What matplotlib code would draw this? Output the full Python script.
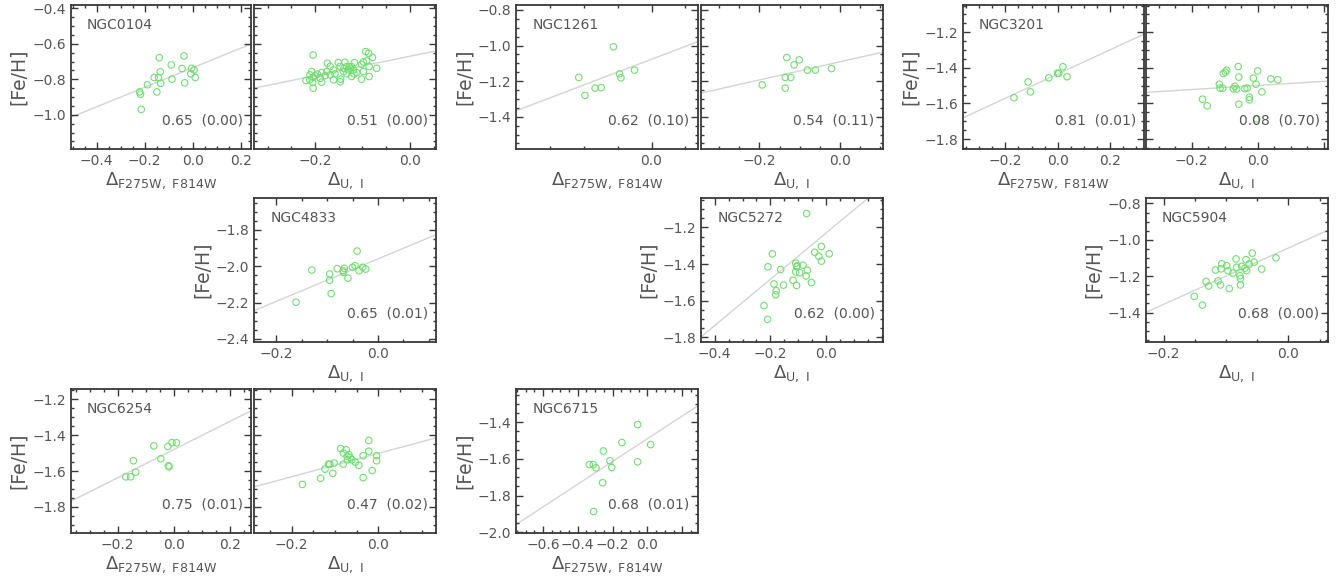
import matplotlib
matplotlib.use("Agg")
import matplotlib.pyplot as plt
from matplotlib.ticker import MultipleLocator, AutoMinorLocator, FuncFormatter

# === Data ===
# NGC0104
ngc0104_f_x = [-0.139, -0.036, -0.089, -0.135, -0.044, -0.004, 0.006, -0.008, 0.011, -0.086,
               -0.160, -0.142, -0.133, -0.033, -0.188, -0.149, -0.221, -0.217, -0.214]
ngc0104_f_y = [-0.678, -0.668, -0.719, -0.758, -0.739, -0.738, -0.747, -0.769, -0.790, -0.799,
               -0.790, -0.790, -0.822, -0.820, -0.831, -0.871, -0.871, -0.884, -0.970]
ngc0104_u_x = [-0.204, -0.093, -0.087, -0.079, -0.091, -0.070, -0.086, -0.174, -0.151, -0.137,
               -0.117, -0.098, -0.102, -0.123, -0.126, -0.130, -0.119, -0.112, -0.098, -0.086,
               -0.102, -0.140, -0.147, -0.161, -0.168, -0.175, -0.186, -0.195, -0.207, -0.211,
               -0.204, -0.219, -0.211, -0.200, -0.189, -0.179, -0.168, -0.158, -0.146, -0.147,
               -0.133, -0.123, -0.118, -0.133, -0.161, -0.139, -0.128, -0.204, -0.205, -0.186]
ngc0104_u_y = [-0.663, -0.644, -0.653, -0.676, -0.696, -0.738, -0.728, -0.709, -0.706, -0.704,
               -0.706, -0.702, -0.715, -0.728, -0.738, -0.747, -0.747, -0.762, -0.756, -0.784,
               -0.799, -0.756, -0.728, -0.747, -0.728, -0.756, -0.762, -0.771, -0.756, -0.775,
               -0.788, -0.807, -0.803, -0.780, -0.794, -0.780, -0.775, -0.769, -0.799, -0.814,
               -0.769, -0.784, -0.769, -0.728, -0.803, -0.738, -0.728, -0.850, -0.818, -0.816]
# NGC1261
ngc1261_f_x = [-0.107, -0.098, -0.083, -0.074, -0.056, -0.047, -0.045, -0.025]
ngc1261_f_y = [-1.179, -1.280, -1.239, -1.236, -1.007, -1.159, -1.181, -1.138]
ngc1261_u_x = [-0.193, -0.132, -0.136, -0.136, -0.122, -0.114, -0.101, -0.081, -0.061, -0.021]
ngc1261_u_y = [-1.221, -1.067, -1.179, -1.239, -1.179, -1.108, -1.080, -1.138, -1.138, -1.129]
# NGC3201
ngc3201_f_x = [-0.167, -0.113, -0.104, -0.034, -0.001, 0.004, 0.020, 0.036]
ngc3201_f_y = [-1.568, -1.479, -1.535, -1.456, -1.430, -1.430, -1.394, -1.450]
ngc3201_u_x = [-0.167, -0.153, -0.116, -0.114, -0.106, -0.104, -0.098, -0.094, -0.074, -0.069,
               -0.064, -0.059, -0.057, -0.057, -0.039, -0.032, -0.025, -0.025, -0.013, -0.005,
               0.000, 0.013, 0.040, 0.061, -0.003]
ngc3201_u_y = [-1.576, -1.613, -1.492, -1.514, -1.514, -1.432, -1.424, -1.414, -1.517, -1.504,
               -1.519, -1.393, -1.452, -1.604, -1.517, -1.514, -1.580, -1.565, -1.458, -1.492,
               -1.417, -1.535, -1.462, -1.467, -1.687]
# NGC4833
ngc4833_u_x = [-0.161, -0.130, -0.095, -0.095, -0.092, -0.080, -0.068, -0.066, -0.068, -0.059,
               -0.050, -0.045, -0.041, -0.037, -0.030, -0.024]
ngc4833_u_y = [-2.198, -2.021, -2.043, -2.077, -2.151, -2.014, -2.025, -2.012, -2.034, -2.066,
               -2.006, -1.997, -1.917, -2.025, -2.006, -2.016]
# NGC5272
ngc5272_u_x = [-0.070, -0.193, -0.209, -0.163, -0.187, -0.179, -0.181, -0.153, -0.223, -0.210,
               -0.119, -0.109, -0.109, -0.106, -0.104, -0.095, -0.083, -0.072, -0.067, -0.053,
               -0.041, -0.026, -0.017, -0.017, 0.011, -0.106]
ngc5272_u_y = [-1.124, -1.344, -1.415, -1.430, -1.509, -1.546, -1.568, -1.515, -1.627, -1.702,
               -1.488, -1.395, -1.443, -1.517, -1.410, -1.447, -1.406, -1.465, -1.434, -1.501,
               -1.336, -1.358, -1.384, -1.304, -1.344, -1.415]
# NGC5904
ngc5904_u_x = [-0.151, -0.138, -0.132, -0.128, -0.117, -0.113, -0.109, -0.107, -0.108, -0.099,
               -0.097, -0.095, -0.089, -0.084, -0.083, -0.078, -0.077, -0.077, -0.075, -0.070,
               -0.068, -0.067, -0.063, -0.058, -0.055, -0.043, -0.020]
ngc5904_u_y = [-1.311, -1.359, -1.229, -1.254, -1.166, -1.226, -1.248, -1.132, -1.160, -1.142,
               -1.170, -1.268, -1.183, -1.105, -1.151, -1.198, -1.213, -1.248, -1.146, -1.157,
               -1.109, -1.170, -1.133, -1.073, -1.123, -1.161, -1.099]
# NGC6254
ngc6254_f_x = [-0.171, -0.154, -0.144, -0.136, -0.071, -0.046, -0.021, -0.019, -0.017, -0.006, 0.010]
ngc6254_f_y = [-1.632, -1.632, -1.542, -1.606, -1.459, -1.531, -1.463, -1.570, -1.576, -1.441, -1.442]
ngc6254_u_x = [-0.175, -0.133, -0.123, -0.115, -0.112, -0.105, -0.102, -0.087, -0.081, -0.081,
               -0.074, -0.072, -0.071, -0.068, -0.065, -0.061, -0.053, -0.045, -0.035, -0.035,
               -0.022, -0.022, -0.014, -0.004, -0.004]
ngc6254_u_y = [-1.674, -1.640, -1.589, -1.561, -1.561, -1.612, -1.555, -1.474, -1.499, -1.561,
               -1.481, -1.518, -1.536, -1.508, -1.523, -1.536, -1.550, -1.568, -1.514, -1.636,
               -1.429, -1.489, -1.597, -1.514, -1.542]
# NGC6715
ngc6715_f_x = [-0.334, -0.311, -0.295, -0.309, -0.257, -0.253, -0.215, -0.205, -0.146, -0.056, -0.056, 0.019]
ngc6715_f_y = [-1.631, -1.631, -1.649, -1.887, -1.730, -1.557, -1.610, -1.647, -1.511, -1.413, -1.616, -1.522]

# fit lines (slope, intercept) and correlation text
fits = {
    "ngc0104_f": (0.551, -0.735), "ngc0104_u": (0.548, -0.670),
    "ngc1261_f": (1.45, -1.077), "ngc1261_u": (0.51, -1.091),
    "ngc3201_f": (0.68, -1.435), "ngc3201_u": (0.115, -1.499),
    "ngc4833_u": (1.171, -1.960), "ngc5272_u": (1.266, -1.230),
    "ngc5904_u": (1.548, -1.045),
    "ngc6254_f": (0.784, -1.480), "ngc6254_u": (0.652, -1.501),
    "ngc6715_f": (0.620, -1.490),
}
corr_text = {
    "ngc0104_f": "0.65  (0.00)", "ngc0104_u": "0.51  (0.00)",
    "ngc1261_f": "0.62  (0.10)", "ngc1261_u": "0.54  (0.11)",
    "ngc3201_f": "0.81  (0.01)", "ngc3201_u": "0.08  (0.70)",
    "ngc4833_u": "0.65  (0.01)", "ngc5272_u": "0.62  (0.00)",
    "ngc5904_u": "0.68  (0.00)",
    "ngc6254_f": "0.75  (0.01)", "ngc6254_u": "0.47  (0.02)",
    "ngc6715_f": "0.68  (0.01)",
}

# === Layout (pixel boxes: left, right, top) ===
W, H = 1344, 578
cols = [(70.7, 250.7), (254.3, 436.0), (516.3, 697.7), (701.0, 882.7), (962.7, 1144.0), (1145.7, 1327.7)]
rows = [5.0, 198.0, 389.0]
ph = 144.0

# key, data x, data y, name, col, row, xlim, ylim, is_left, x labels left out
panels = [
    ("ngc0104_f", ngc0104_f_x, ngc0104_f_y, "NGC0104", 0, 0, (-0.508, 0.242), (-1.193, -0.381), True, []),
    ("ngc0104_u", ngc0104_u_x, ngc0104_u_y, None, 1, 0, (-0.328, 0.055), (-1.193, -0.381), False, []),
    ("ngc1261_f", ngc1261_f_x, ngc1261_f_y, "NGC1261", 2, 0, (-0.199, 0.068), (-1.581, -0.772), True, []),
    ("ngc1261_u", ngc1261_u_x, ngc1261_u_y, None, 3, 0, (-0.345, 0.106), (-1.581, -0.772), False, []),
    ("ngc3201_f", ngc3201_f_x, ngc3201_f_y, "NGC3201", 4, 0, (-0.363, 0.330), (-1.856, -1.047), True, []),
    ("ngc3201_u", ngc3201_u_x, ngc3201_u_y, None, 5, 0, (-0.339, 0.212), (-1.856, -1.047), False, [0.2]),
    ("ngc4833_u", ngc4833_u_x, ngc4833_u_y, "NGC4833", 1, 1, (-0.243, 0.114), (-2.417, -1.625), True, []),
    ("ngc5272_u", ngc5272_u_x, ngc5272_u_y, "NGC5272", 3, 1, (-0.449, 0.203), (-1.826, -1.039), True, [0.2]),
    ("ngc5904_u", ngc5904_u_x, ngc5904_u_y, "NGC5904", 5, 1, (-0.229, 0.063), (-1.562, -0.770), True, []),
    ("ngc6254_f", ngc6254_f_x, ngc6254_f_y, "NGC6254", 0, 2, (-0.368, 0.275), (-1.945, -1.142), True, []),
    ("ngc6254_u", ngc6254_u_x, ngc6254_u_y, None, 1, 2, (-0.286, 0.133), (-1.945, -1.142), False, []),
    ("ngc6715_f", ngc6715_f_x, ngc6715_f_y, "NGC6715", 2, 2, (-0.753, 0.289), (-2.004, -1.219), True, [0.2]),
]

text_col = "#555555"
frame_col = "#383838"
green = "#72dd72"

plt.rcParams["font.family"] = "DejaVu Sans"
plt.rcParams["mathtext.fontset"] = "dejavusans"


def make_fmt(skip):
    def fmt(v, pos):
        for s in skip:
            if abs(v - s) < 1e-6:
                return ""
        txt = f"{v:.1f}"
        if txt == "-0.0":
            txt = "0.0"
        return txt.replace("-", "\u2212")
    return FuncFormatter(fmt)


fig = plt.figure(figsize=(W / 100, H / 100), dpi=100)

for key, xs, ys, name, c, r, xl, yl, is_left, skip in panels:
    l, rgt = cols[c]
    top = rows[r]
    ax = fig.add_axes([l / W, 1 - (top + ph) / H, (rgt - l) / W, ph / H])

    slope, icpt = fits[key]
    ax.axline((0, icpt), slope=slope, color="#d4d4d4", lw=1.0, zorder=1)
    ax.scatter(xs, ys, s=22, facecolors="none", edgecolors=green, linewidths=0.8, zorder=2)

    ax.set_xlim(*xl)
    ax.set_ylim(*yl)
    ax.xaxis.set_major_locator(MultipleLocator(0.2))
    ax.yaxis.set_major_locator(MultipleLocator(0.2))
    ax.xaxis.set_minor_locator(AutoMinorLocator(4))
    ax.yaxis.set_minor_locator(AutoMinorLocator(4))
    ax.xaxis.set_major_formatter(make_fmt(skip))
    ax.tick_params(which="both", direction="in", top=True, right=True,
                   color=frame_col, labelcolor=text_col, labelsize=10, width=1.0)
    ax.tick_params(which="major", length=5)
    ax.tick_params(which="minor", length=2.5)
    for sp in ax.spines.values():
        sp.set_color(frame_col)
        sp.set_linewidth(1.3)

    if key.endswith("_f"):
        ax.set_xlabel(r"$\Delta_{\rm F275W,\ F814W}$", fontsize=13, color=text_col, labelpad=2)
    else:
        ax.set_xlabel(r"$\Delta_{\rm U,\ I}$", fontsize=13, color=text_col, labelpad=2)

    if is_left:
        ax.set_ylabel("[Fe/H]", fontsize=13.5, color=text_col, labelpad=3)
        ax.text(0.09, 0.86, name, transform=ax.transAxes, fontsize=10,
                color=text_col, ha="left", va="center")
    else:
        ax.tick_params(labelleft=False)

    ax.text(0.955, 0.2, corr_text[key], transform=ax.transAxes, fontsize=10,
            color=text_col, ha="right", va="center")

fig.savefig("out.png", dpi=100)
plt.close(fig)
